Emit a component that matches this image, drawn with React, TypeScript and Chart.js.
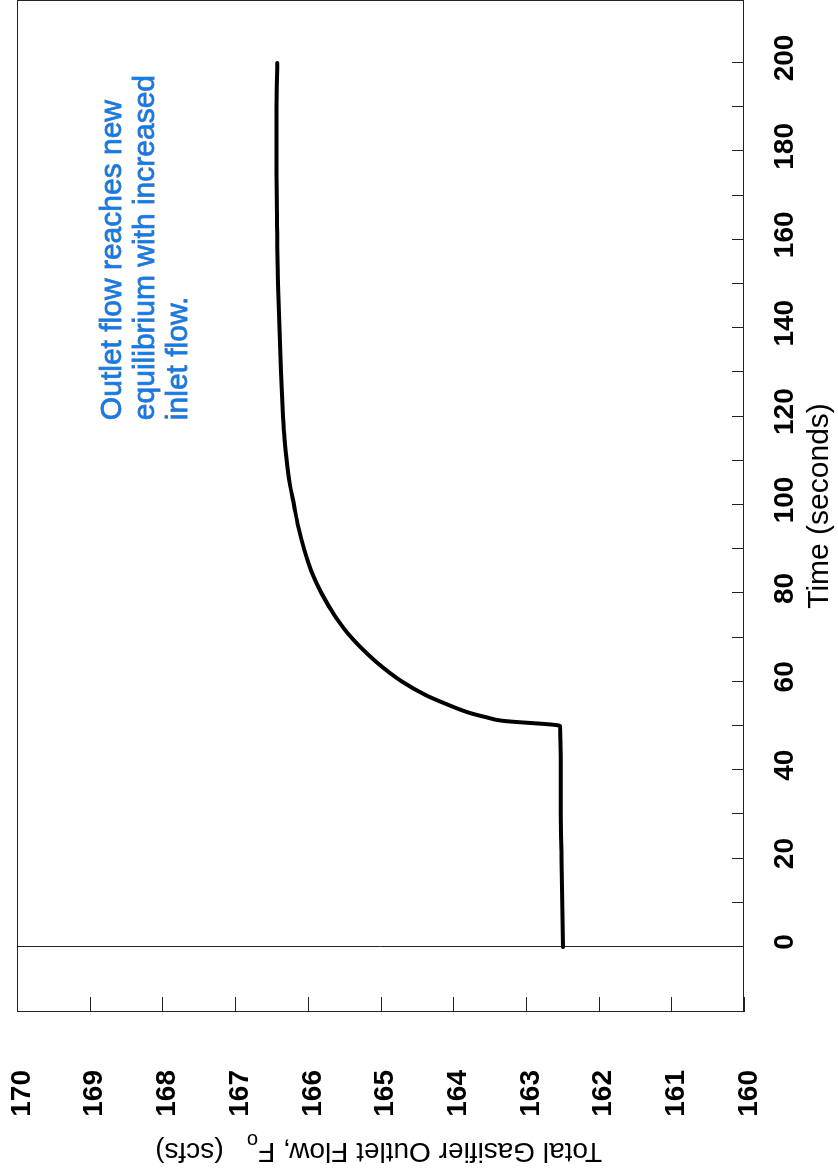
import React, { useEffect, useRef } from 'react';
import { Chart, registerables } from 'chart.js';

Chart.register(...registerables);

// ---- data ----
const timeSec = [0, 10, 20, 30, 40, 50, 51.2, 52, 53, 55, 57, 60, 63, 66, 70, 75, 80, 85, 90, 95, 100, 105, 110, 115, 120, 130, 140, 150, 160, 175, 190, 200];
const outletFlow = [162.49, 162.5, 162.51, 162.52, 162.52, 162.53, 163.33, 163.55, 163.78, 164.1, 164.38, 164.7, 164.95, 165.16, 165.4, 165.63, 165.81, 165.95, 166.05, 166.13, 166.19, 166.25, 166.29, 166.32, 166.34, 166.37, 166.39, 166.41, 166.42, 166.43, 166.43, 166.42];
const timeTickValues = [0, 20, 40, 60, 80, 100, 120, 140, 160, 180, 200];
const timeMinorTicks = [0, 10, 20, 30, 40, 50, 60, 70, 80, 90, 100, 110, 120, 130, 140, 150, 160, 170, 180, 190, 200];
const flowTickValues = [160, 161, 162, 163, 164, 165, 166, 167, 168, 169, 170];
const annotationLines = ['Outlet flow reaches new', 'equilibrium with increased', 'inlet flow.'];
const annotationAnchor = { time: 119.2, flow: 168.57 };
const xTitle = 'Time (seconds)';
const yTitleMain = 'Total Gasifier Outlet Flow, F';
const yTitleSub = 'o';
const yTitleTail = '   (scfs)';

const FONT = 'Liberation Sans, Arial, Helvetica, sans-serif';

const framePlugin = {
  id: 'frame',
  beforeDatasetsDraw(chart: any) {
    const { ctx, chartArea: a, scales } = chart;
    const x = scales.x;
    const y = scales.y;
    ctx.save();
    ctx.strokeStyle = '#222';
    ctx.lineWidth = 1;
    ctx.strokeRect(a.left + 0.5, a.top + 0.5, a.right - a.left - 1, a.bottom - a.top - 1);
    ctx.beginPath();
    const x0 = Math.round(x.getPixelForValue(0)) + 0.5;
    ctx.moveTo(x0, a.top);
    ctx.lineTo(x0, a.bottom);
    for (const t of timeMinorTicks) {
      const px = Math.round(x.getPixelForValue(t)) + 0.5;
      ctx.moveTo(px, a.bottom);
      ctx.lineTo(px, a.bottom - 12);
    }
    for (const v of flowTickValues) {
      const py = Math.round(y.getPixelForValue(v)) + 0.5;
      ctx.moveTo(a.left, py);
      ctx.lineTo(a.left + 15, py);
    }
    ctx.stroke();
    ctx.restore();
  },
  afterDraw(chart: any) {
    const { ctx, scales } = chart;
    const x = scales.x;
    const y = scales.y;
    ctx.save();
    // annotation
    ctx.font = `30px ${FONT}`;
    ctx.textAlign = 'left';
    ctx.textBaseline = 'alphabetic';
    const ax = x.getPixelForValue(annotationAnchor.time);
    const ay = y.getPixelForValue(annotationAnchor.flow);
    annotationLines.forEach((line, i) => {
      const ly = ay + i * 33;
      ctx.lineWidth = 0.8;
      ctx.strokeStyle = 'rgba(30,50,90,0.7)';
      ctx.strokeText(line, ax, ly);
      ctx.fillStyle = 'rgb(12,124,240)';
      ctx.fillText(line, ax, ly);
    });
    ctx.restore();

    // y-axis title (rotated, with subscript)
    ctx.save();
    ctx.translate(31, 602);
    ctx.rotate(-Math.PI / 2);
    ctx.fillStyle = '#000';
    ctx.textAlign = 'left';
    ctx.textBaseline = 'alphabetic';
    ctx.font = `28px ${FONT}`;
    let pos = 0;
    ctx.fillText(yTitleMain, pos, 0);
    pos += ctx.measureText(yTitleMain).width;
    ctx.font = `20px ${FONT}`;
    ctx.fillText(yTitleSub, pos, 9);
    pos += ctx.measureText(yTitleSub).width;
    ctx.font = `28px ${FONT}`;
    ctx.fillText(yTitleTail, pos, 0);
    ctx.restore();
  },
};

export default function App() {
  const ref = useRef<HTMLCanvasElement>(null);
  useEffect(() => {
    if (!ref.current) return;
    Chart.defaults.font.family = FONT;
    const chart = new Chart(ref.current, {
      type: 'line',
      data: {
        datasets: [
          {
            data: timeSec.map((t, i) => ({ x: t, y: outletFlow[i] })),
            borderColor: '#000',
            borderWidth: 4,
            pointRadius: 0,
            fill: false,
            cubicInterpolationMode: 'monotone',
            borderCapStyle: 'round',
            borderJoinStyle: 'round',
          },
        ],
      },
      options: {
        responsive: false,
        maintainAspectRatio: false,
        animation: false,
        events: [],
        layout: { padding: { top: 17, right: 0, left: 0, bottom: 0 } },
        plugins: { legend: { display: false }, tooltip: { enabled: false } },
        scales: {
          x: {
            type: 'linear',
            position: 'bottom',
            min: -14.7,
            max: 214.25,
            afterBuildTicks: (s: any) => {
              s.ticks = timeTickValues.map((v) => ({ value: v }));
            },
            afterFit: (s: any) => {
              s.height = 94;
              s.paddingLeft = 0;
              s.paddingRight = 0;
            },
            grid: { display: false },
            border: { display: false },
            ticks: {
              autoSkip: false,
              maxRotation: 0,
              minRotation: 0,
              padding: 16,
              labelOffset: 5,
              color: '#000',
              font: { size: 28, weight: 'bold', family: FONT },
            },
            title: {
              display: true,
              text: xTitle,
              color: '#000',
              padding: { top: 0, bottom: 0 },
              font: { size: 30, weight: 'normal', family: FONT },
            },
          },
          y: {
            type: 'linear',
            position: 'left',
            min: 160,
            max: 170,
            afterBuildTicks: (s: any) => {
              s.ticks = flowTickValues.map((v) => ({ value: v }));
            },
            afterFit: (s: any) => {
              s.width = 162;
              s.paddingTop = 0;
              s.paddingBottom = 0;
            },
            grid: { display: false },
            border: { display: false },
            ticks: {
              padding: 50,
              labelOffset: 5,
              color: '#000',
              font: { size: 28, weight: 'bold', family: FONT },
            },
          },
        },
      },
      plugins: [framePlugin],
    } as any);
    return () => chart.destroy();
  }, []);

  return (
    <div style={{ position: 'absolute', left: 0, top: 0, width: 838, height: 1174, overflow: 'hidden', background: '#fff' }}>
      <div
        style={{
          position: 'absolute',
          left: 0,
          top: 0,
          width: 1174,
          height: 838,
          transformOrigin: '0 0',
          transform: 'translate(0px, 1174px) rotate(-90deg)',
        }}
      >
        <canvas ref={ref} width={1174} height={838} />
      </div>
    </div>
  );
}
